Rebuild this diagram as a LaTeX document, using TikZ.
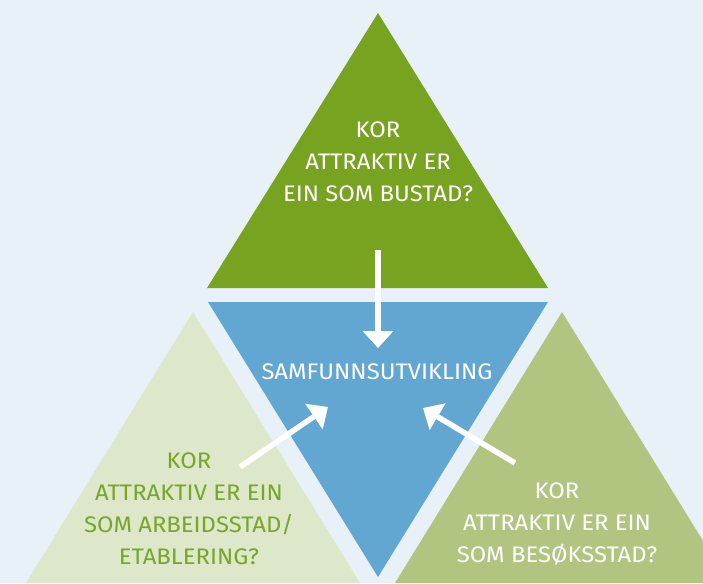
\documentclass[tikz,border=0pt]{standalone}
\usepackage{fontspec}
\setmainfont{Fira Sans}[FakeStretch=1.06]
\usepackage{xcolor}
\usepackage{tikz}
\usetikzlibrary{arrows.meta}

\definecolor{bgblue}{HTML}{E8F0F8}
\definecolor{darkgreen}{HTML}{77A320}
\definecolor{midblue}{HTML}{62A7D2}
\definecolor{palegreen}{HTML}{DDE7C9}
\definecolor{sagegreen}{HTML}{B1C580}
\definecolor{textgreen}{HTML}{78A628}

\begin{document}
\begin{tikzpicture}[
    x=1pt, y=-1pt,
    question/.style={
        align=center,
        inner sep=0pt,
        font=\fontsize{22.5}{32}\selectfont
    },
    arrow/.style={-{Triangle[length=17pt,width=30pt]}, line width=5.5pt, white}
]

\useasboundingbox (0,0) rectangle (703,583);
\fill[bgblue] (0,0) rectangle (703,583);
\clip (0,0) rectangle (703,583);

% triangles
\fill[darkgreen] (378,13) -- (548,288) -- (207,288) -- cycle;
\fill[midblue] (208,302) -- (548,302) -- (378,577) -- cycle;
\fill[palegreen] (193,312) -- (360,583) -- (26,583) -- cycle;
\fill[sagegreen] (562,312) -- (729,583) -- (395,583) -- cycle;

% texts
\node[question, text=white] (bustad) at (378,162) {KOR\\ATTRAKTIV ER\\EIN SOM BUSTAD?};
\node[question, text=white] (samf) at (377,372) {SAMFUNNSUTVIKLING};
\node[question, text=textgreen] (arbeid) at (189,509) {KOR\\ATTRAKTIV ER EIN\\SOM ARBEIDSSTAD/\\ETABLERING?};
\node[question, text=white] (besok) at (557,524) {KOR\\ATTRAKTIV ER EIN\\SOM BESØKSSTAD?};

% arrows
\coordinate (topstart) at (378,250);
\coordinate (topend) at (378,348);
\coordinate (leftstart) at (240,467);
\coordinate (leftend) at (328,407);
\coordinate (rightstart) at (515,463);
\coordinate (rightend) at (423,408);

\draw[arrow] (topstart) -- (topend);
\draw[arrow] (leftstart) -- (leftend);
\draw[arrow] (rightstart) -- (rightend);

\end{tikzpicture}
\end{document}
